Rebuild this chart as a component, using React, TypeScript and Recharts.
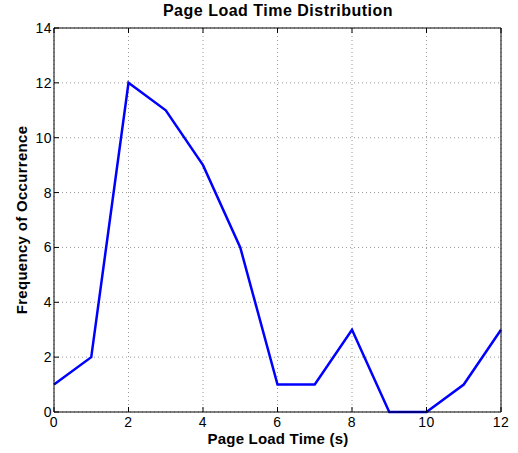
import React from 'react';
import {
  LineChart,
  Line,
  XAxis,
  YAxis,
  CartesianGrid,
} from 'recharts';

const loadTimes = [0, 1, 2, 3, 4, 5, 6, 7, 8, 9, 10, 11, 12];
const frequencies = [1, 2, 12, 11, 9, 6, 1, 1, 3, 0, 0, 1, 3];
const xTicks = [0, 2, 4, 6, 8, 10, 12];
const yTicks = [0, 2, 4, 6, 8, 10, 12, 14];

const data = loadTimes.map((t, i) => ({ time: t, freq: frequencies[i] }));

const FONT = '"Liberation Sans", Arial, Helvetica, sans-serif';

// inward tick marks + labels, matlab style box
const BottomTick = (props: any) => {
  const { x, y, payload } = props;
  return (
    <g>
      <line x1={x} y1={y} x2={x} y2={y - 5} stroke="#000" />
      <text x={x} y={y + 15} textAnchor="middle" fontSize={14} letterSpacing={0.5} fontFamily={FONT} fill="#000">
        {payload.value}
      </text>
    </g>
  );
};

const TopTick = (props: any) => {
  const { x, y } = props;
  return <line x1={x} y1={y} x2={x} y2={y + 5} stroke="#000" />;
};

const LeftTick = (props: any) => {
  const { x, y, payload } = props;
  return (
    <g>
      <line x1={x} y1={y} x2={x + 5} y2={y} stroke="#000" />
      <text x={x - 2} y={y + 5} textAnchor="end" fontSize={14} letterSpacing={0.5} fontFamily={FONT} fill="#000">
        {payload.value}
      </text>
    </g>
  );
};

const RightTick = (props: any) => {
  const { x, y } = props;
  return <line x1={x} y1={y} x2={x - 5} y2={y} stroke="#000" />;
};

const App: React.FC = () => {
  return (
    <div style={{ position: 'absolute', left: 0, top: 0, width: 518, height: 453, background: '#fff' }}>
      <LineChart
        width={518}
        height={453}
        data={data}
        margin={{ top: 0, right: 0, bottom: 0, left: 0 }}
      >
        <CartesianGrid stroke="#999" strokeDasharray="1 3" />
        <XAxis
          dataKey="time"
          type="number"
          domain={[0, 12]}
          ticks={xTicks}
          height={41}
          tickSize={0}
          tickMargin={0}
          tickLine={false}
          axisLine={{ stroke: '#000' }}
          tick={<BottomTick />}
          interval={0}
        />
        <XAxis
          xAxisId="top"
          orientation="top"
          dataKey="time"
          type="number"
          domain={[0, 12]}
          ticks={xTicks}
          height={28}
          tickSize={0}
          tickMargin={0}
          tickLine={false}
          axisLine={{ stroke: '#000' }}
          tick={<TopTick />}
          interval={0}
        />
        <YAxis
          type="number"
          domain={[0, 14]}
          ticks={yTicks}
          width={54}
          tickSize={0}
          tickMargin={0}
          tickLine={false}
          axisLine={{ stroke: '#000' }}
          tick={<LeftTick />}
          interval={0}
        />
        <YAxis
          yAxisId="right"
          orientation="right"
          type="number"
          domain={[0, 14]}
          ticks={yTicks}
          width={17}
          tickSize={0}
          tickMargin={0}
          tickLine={false}
          axisLine={{ stroke: '#000' }}
          tick={<RightTick />}
          interval={0}
        />
        <Line
          type="linear"
          dataKey="freq"
          stroke="#0000ff"
          strokeWidth={2.5}
          dot={false}
          isAnimationActive={false}
        />
        <text x={278} y={16} textAnchor="middle" fontSize={16} letterSpacing={0.5} fontWeight="bold" fontFamily={FONT} fill="#000">
          Page Load Time Distribution
        </text>
        <text x={278} y={444} textAnchor="middle" fontSize={15} letterSpacing={0.2} fontWeight="bold" fontFamily={FONT} fill="#000">
          Page Load Time (s)
        </text>
        <text
          x={27}
          y={220}
          textAnchor="middle"
          fontSize={15}
          letterSpacing={0.3}
          fontWeight="bold"
          fontFamily={FONT}
          fill="#000"
          transform="rotate(-90 27 220)"
        >
          Frequency of Occurrence
        </text>
      </LineChart>
    </div>
  );
};

export default App;
